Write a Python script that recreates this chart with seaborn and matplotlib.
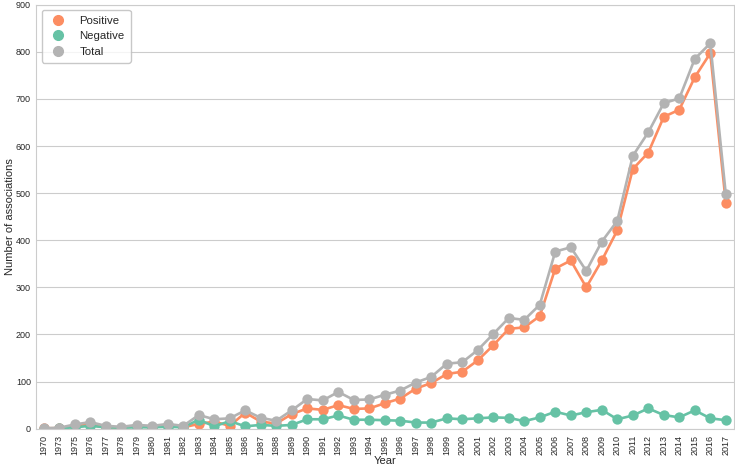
import matplotlib
matplotlib.use("Agg")
import matplotlib.pyplot as plt
from matplotlib.lines import Line2D
import seaborn as sns
import pandas as pd

# values
years = [1970, 1973] + list(range(1975, 2018))

positive = [1, 1, 6, 8, 3, 2, 5, 3, 6, 3,
            10, 15, 6, 34, 15, 11, 31, 43, 40, 50,
            42, 43, 54, 64, 85, 97, 116, 121, 145, 177,
            212, 215, 239, 340, 357, 300, 357, 421, 551, 586,
            662, 677, 746, 797, 480]

negative = [0, 1, 3, 6, 3, 2, 3, 3, 4, 3,
            19, 5, 16, 5, 8, 6, 8, 20, 20, 28,
            19, 19, 18, 17, 13, 13, 22, 20, 22, 24,
            23, 16, 24, 36, 28, 35, 40, 20, 28, 43,
            29, 24, 39, 22, 18]

total = [1, 2, 9, 14, 6, 4, 8, 6, 10, 6,
         29, 20, 22, 39, 23, 17, 39, 63, 60, 78,
         61, 62, 72, 81, 98, 110, 138, 141, 167, 201,
         235, 231, 263, 376, 385, 335, 397, 441, 579, 629,
         691, 701, 785, 818, 498]

series_names = ["Positive", "Negative", "Total"]
colors = {"Positive": "#fc8d62", "Negative": "#66c2a5", "Total": "#b3b3b3"}

rows = []
for name, vals in zip(series_names, [positive, negative, total]):
    for yr, v in zip(years, vals):
        rows.append({"Year": str(yr), "Number of associations": v, "kind": name})
df = pd.DataFrame(rows)

sns.set_style("whitegrid")
plt.rcParams["font.family"] = ["Liberation Sans", "DejaVu Sans"]

fig, ax = plt.subplots(figsize=(7.35, 4.68), dpi=100)
sns.pointplot(data=df, x="Year", y="Number of associations", hue="kind",
              hue_order=series_names, palette=colors, ax=ax,
              markersize=6, linewidth=1.9, legend=False)

ax.set_ylim(0, 900)
ax.set_yticks(range(0, 901, 100))
ax.tick_params(axis="x", labelrotation=90, labelsize=6.5, length=0, pad=4.6)
ax.tick_params(axis="y", labelsize=6.5, length=0, pad=3.6)
ax.set_xlabel("Year", fontsize=8, labelpad=0.5)
ax.set_ylabel("Number of associations", fontsize=8, labelpad=1)
ax.xaxis.grid(False)

# marker-only legend like the original
handles = [Line2D([], [], linestyle="none", marker="o", markersize=7,
                  color=colors[n], label=n) for n in series_names]
leg = ax.legend(handles=handles, loc="upper left", fontsize=8.2,
                frameon=True, borderpad=0.5, handlelength=1.8,
                handletextpad=1.0, borderaxespad=0,
                bbox_to_anchor=(0.0086, 0.9875))
leg.get_frame().set_edgecolor("#bbbbbb")

fig.subplots_adjust(left=0.049, right=0.998, top=0.99, bottom=0.084)
fig.savefig("out.png", dpi=100)
